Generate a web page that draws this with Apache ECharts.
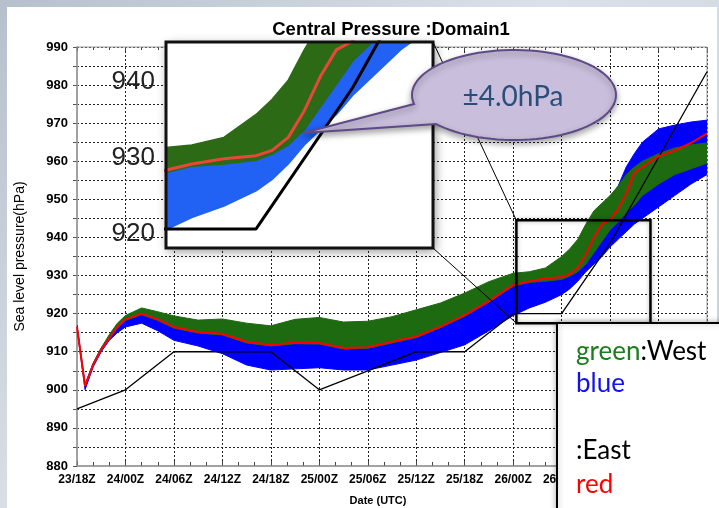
<!DOCTYPE html>
<html><head><meta charset="utf-8">
<script src="https://cdn.jsdelivr.net/npm/echarts@6/dist/echarts.min.js"></script>
<style>
html,body{margin:0;padding:0;width:719px;height:508px;overflow:hidden;background:linear-gradient(135deg,#b6c0cc 0%,#dbe1e8 45%,#c3ccd7 100%);}
#paper{position:absolute;left:7px;top:7px;width:710px;height:501px;background:#fff;}
#chart{position:absolute;left:0;top:0;width:719px;height:508px;}
</style></head><body><div id="paper"></div><div id="chart"></div>
<script>
// ---- data (hours after 23/18Z) ----
const hours = [0,1,2,3,4,5,6,8,10,12,15,18,21,24,27,30,33,36,39,42,45,48,51,54,56,58,60,61,62,63,64,65,66,67,68,69,70,72,74,76,78];
const redMember = [916.5,901,906.5,910.5,913.5,916.5,918.5,920,918.5,916.5,915.2,914.7,912.6,911.8,912.4,912.3,911,911.2,912.6,914,916.6,919.6,923.3,927.5,928.5,929.2,929.6,930.3,932,935.5,940,943.5,944.6,947.5,951.5,957,958.5,961.3,962.8,964.8,967.3];
const blueLow  = [916,900,906,910,913,915,916.5,917.5,915.5,913,911.5,909.5,906.5,905.2,905.5,905.8,905.2,905.2,906.5,907.8,909.8,911.8,915.5,919.5,921.5,923,925,926.5,928.5,931,933,935,937.5,939.5,941.5,943.5,945,948,951,954,956.5];
const blueHigh = [917,901.5,907,911,914,917,919,920.5,919,917,915.2,914.7,912.6,911.8,912.4,912.3,911,911.2,912.6,914,916.6,919.6,923.3,927.5,928.5,929.2,929.6,930.3,932,935.5,940,944.5,950,953.5,958.5,962,965,968.5,969.5,970.3,970.8];
const greenLow = [916.5,901,906.5,910.5,913.5,916.2,918.2,919.7,918.2,916.2,914.9,914.4,912.3,911.5,912.1,912,910.7,910.9,912.3,913.7,916.3,919.3,923,927.2,928.2,928.5,929,929.8,931,933,936,939,942,944,946.5,948.5,951,954,956.5,958,959.5];
const greenHigh= [916.5,901,907,911,914.5,917.5,919.5,921.5,920.5,919.4,918.3,918.6,917.5,916.8,918.5,919,917.8,918,919.2,921,922.8,925.4,928.4,930.6,931,932,935,937,939.5,943.5,947,949,951,953.5,956.5,958.5,960,962,963.5,964.3,964.8];
const trackHours = [0,6,12,18,24,30,36,42,48,54,60,66,72,78];
const bestTrack  = [895,900,910,910,910,900,905,910,910,920,920,938.5,961,983.5];
const xTickLabels = ['23/18Z','24/00Z','24/06Z','24/12Z','24/18Z','25/00Z','25/06Z','25/12Z','25/18Z','26/00Z','26/06Z','26/12Z','26/18Z','27/00Z'];
const yTickLabels = [880,890,900,910,920,930,940,950,960,970,980,990];
// zoom window shown in the inset
const insetX = [54.4, 71.0];
const insetY = [917.5, 944.5];
const insetTicks = [920, 930, 940];
const insetLabelShift = 0.7;   // the typed inset labels sit slightly below their grid values
const insetGridY = [920, 925, 930, 935, 940];
const insetGridX = [60, 66];
const insetMarker = [62.7];

const pairs = (xs, arr) => xs.map((h, i) => [h, arr[i]]);

// ensemble envelope drawn as a filled polygon through the axes' scales
function band(lo, hi, color, z, xi, lw) {
  return {
    type:'custom', coordinateSystem:'cartesian2d', xAxisIndex:xi, yAxisIndex:xi, z, silent:true, clip:true,
    data: hours.map((h, i) => [h, lo[i], hi[i]]),
    encode:{x:0, y:[1, 2]},
    renderItem(params, api) {
      if (params.dataIndex !== 0) return null;
      const top = hours.map((h, i) => api.coord([h, hi[i]]));
      const bot = hours.map((h, i) => api.coord([h, lo[i]])).reverse();
      const cs = params.coordSys;
      return {
        type:'polygon', shape:{points: top.concat(bot)},
        style:{fill:color, stroke:color, lineWidth:lw, lineJoin:'round'},
        clipPath:{type:'rect', shape:{x:cs.x, y:cs.y, width:cs.width, height:cs.height}}
      };
    }
  };
}

const C = {green:'#1d6a10', blue:'#0000ff', red:'#ff0000'};
const IC = {green:'#2c6a15', blue:'#2161f4', red:'#e8473a'};
const axisFont = 'Liberation Sans, Arial, sans-serif';

const chart = echarts.init(document.getElementById('chart'), null, {width:719, height:508});
const option = {
  animation:false,
  backgroundColor:'transparent',
  title:{text:'Central Pressure :Domain1', left:386, top:15, textAlign:'center',
    textStyle:{fontSize:18.5, fontWeight:'bold', fontFamily:axisFont, color:'#000'}},
  grid:[
    {left:77, top:47, width:630, height:419, outerBoundsMode:'none', containLabel:false,
     show:true, borderColor:'#9a9a9a', borderWidth:1, z:1},
    {left:166, top:42, width:267, height:206, outerBoundsMode:'none', containLabel:false,
     show:true, backgroundColor:'#fff', borderWidth:0,
     shadowBlur:10, shadowColor:'rgba(0,0,0,0.45)', shadowOffsetX:2, shadowOffsetY:3, z:20}
  ],
  xAxis:[
    {gridIndex:0, type:'value', min:0, max:78, interval:6, position:'bottom',
     axisLine:{show:true, lineStyle:{color:'#aaa', width:2}},
     axisTick:{show:true, inside:true, length:5, lineStyle:{color:'#444'}},
     minorTick:{show:true, splitNumber:3, length:4, lineStyle:{color:'#444'}},
     axisLabel:{margin:8, fontSize:12, fontWeight:'bold', fontFamily:axisFont, color:'#000',
       formatter:v => xTickLabels[Math.round(v/6)] || ''},
     splitLine:{show:true, lineStyle:{color:'#222', type:[2,2], width:1}},
     name:'Date (UTC)', nameLocation:'middle', nameGap:29,
     nameTextStyle:{fontSize:11, fontWeight:'bold', fontFamily:axisFont, color:'#000', padding:[0,28,0,0]}},
    {gridIndex:0, type:'value', min:0, max:78, interval:6, position:'top',
     axisLine:{show:false}, axisLabel:{show:false}, splitLine:{show:false},
     axisTick:{show:true, inside:true, length:4, lineStyle:{color:'#444'}},
     minorTick:{show:true, splitNumber:3, length:3, lineStyle:{color:'#444'}}},
    {gridIndex:1, type:'value', min:insetX[0], max:insetX[1], show:true,
     axisLine:{show:false}, axisTick:{show:false}, axisLabel:{show:false}, splitLine:{show:false}, z:21}
  ],
  yAxis:[
    {gridIndex:0, type:'value', min:880, max:990, interval:5, position:'left',
     axisLine:{show:true, lineStyle:{color:'#aaa', width:2}},
     axisTick:{show:false},
     axisLabel:{margin:9, fontSize:13, fontWeight:'bold', fontFamily:axisFont, color:'#000',
       formatter:v => yTickLabels.includes(v) ? String(v) : ''},
     splitLine:{show:true, lineStyle:{color:'#222', type:[2,2], width:1}},
     name:'Sea level pressure(hPa)', nameLocation:'middle', nameGap:50,
     nameTextStyle:{fontSize:14, fontFamily:axisFont, color:'#000'}},
    {gridIndex:0, type:'value', min:880, max:990, interval:5, position:'right',
     axisLine:{show:false}, axisLabel:{show:false}, splitLine:{show:false},
     axisTick:{show:true, inside:true, length:4, lineStyle:{color:'#555'}}},
    {gridIndex:1, type:'value', min:insetY[0], max:insetY[1], show:true,
     axisLine:{show:false}, axisTick:{show:false}, splitLine:{show:false}, axisLabel:{show:false}, z:21},
    {gridIndex:1, type:'value', min:insetY[0] + insetLabelShift, max:insetY[1] + insetLabelShift, show:true,
     position:'left', axisLine:{show:false}, axisTick:{show:false}, splitLine:{show:false}, z:21,
     axisLabel:{customValues:insetTicks, margin:11, fontSize:26, fontFamily:axisFont, color:'#222'}}
  ],
  series:[
    band(blueLow, blueHigh, C.blue, 3, 0, 1),
    band(greenLow, greenHigh, C.green, 4, 0, 1),
    {type:'line', xAxisIndex:0, yAxisIndex:0, data:pairs(trackHours, bestTrack), symbol:'none',
     lineStyle:{color:'#000', width:1.3}, z:5, silent:true},
    {type:'line', xAxisIndex:0, yAxisIndex:0, data:pairs(hours, redMember), symbol:'none',
     lineStyle:{color:C.red, width:2}, z:6, silent:true},
    // inset
    {type:'line', xAxisIndex:2, yAxisIndex:2, data:[[insetX[0], insetY[0]]], symbol:'none', z:21, silent:true,
     lineStyle:{width:0},
     markLine:{silent:true, symbol:'none', label:{show:false}, animation:false,
       lineStyle:{color:'#9a9a9a', type:[2,3], width:1},
       data:[...insetGridY.map(v => ({yAxis:v})), ...insetGridX.map(v => ({xAxis:v})),
             ...insetMarker.map(v => ({xAxis:v, lineStyle:{color:'#6a6a6a', type:[4,2], width:1.6}}))]}},
    band(blueLow, blueHigh, IC.blue, 22, 2, 1.5),
    band(greenLow, greenHigh, IC.green, 23, 2, 1.5),
    {type:'line', xAxisIndex:2, yAxisIndex:2, data:pairs(trackHours, bestTrack), symbol:'none',
     lineStyle:{color:'#000', width:3}, z:24, silent:true},
    {type:'line', xAxisIndex:2, yAxisIndex:2, data:pairs(hours, redMember), symbol:'none',
     lineStyle:{color:IC.red, width:3}, z:25, silent:true}
  ]
};
chart.setOption(option);

// ---- annotation graphics positioned from the axes ----
const px = (ai, x, y) => chart.convertToPixel({xAxisIndex:ai, yAxisIndex:ai}, [x, y]);
const b0 = px(0, insetX[0], insetY[1]);
const b1 = px(0, insetX[1], insetY[0]);
const i0 = px(2, insetX[0], insetY[1]);
const i1 = px(2, insetX[1], insetY[0]);

// speech bubble outline (ellipse + tail)
const ecx = 514, ecy = 95, erx = 102, ery = 45;
const bubble = [[303, 133]];
const aStart = Math.PI - Math.asin(9/45), aEnd = Math.PI - Math.asin(29/45) + 2*Math.PI;
for (let k = 0; k <= 90; k++) {
  const t = aStart + (aEnd - aStart) * k / 90;
  bubble.push([ecx + erx*Math.cos(t), ecy + ery*Math.sin(t)]);
}
const lf = 'Lato, sans-serif';
chart.setOption({graphic:[
  {type:'line', z:45, shape:{x1:i1[0], y1:i0[1], x2:b0[0], y2:b0[1]}, style:{stroke:'#000', lineWidth:1}},
  {type:'line', z:45, shape:{x1:i1[0], y1:i1[1], x2:b0[0], y2:b1[1]}, style:{stroke:'#000', lineWidth:1}},
  {type:'rect', z:46, shape:{x:b0[0], y:b0[1], width:b1[0]-b0[0], height:b1[1]-b0[1]},
   style:{fill:null, stroke:'#000', lineWidth:2.5, shadowBlur:4, shadowColor:'rgba(0,0,0,0.3)'}},
  {type:'rect', z:30, shape:{x:i0[0], y:i0[1], width:i1[0]-i0[0], height:i1[1]-i0[1]},
   style:{fill:null, stroke:'#111', lineWidth:3}},
  {type:'polygon', z:60, shape:{points:bubble},
   style:{fill:'#c9bedb', stroke:'#5e4a87', lineWidth:2, shadowBlur:6, shadowOffsetY:3, shadowColor:'rgba(0,0,0,0.35)'}},
  {type:'text', z:61, x:513, y:97, style:{text:'±4.0hPa', fill:'#2a4d7a', fontSize:28, fontFamily:lf,
    align:'center', verticalAlign:'middle'}},
  {type:'rect', z:70, shape:{x:557, y:323, width:175, height:200},
   style:{fill:'#fff', stroke:'#000', lineWidth:2, shadowBlur:6, shadowColor:'rgba(0,0,0,0.3)'}},
  {type:'text', z:71, x:576, y:352, style:{text:'{g|green}{k|:West}', verticalAlign:'middle',
    rich:{g:{fill:'#1e7b1e', fontSize:26, fontFamily:lf}, k:{fill:'#000', fontSize:26, fontFamily:lf}}}},
  {type:'text', z:71, x:576, y:384, style:{text:'blue', fill:'#1010f0', fontSize:26, fontFamily:lf, verticalAlign:'middle'}},
  {type:'text', z:71, x:576, y:451, style:{text:':East', fill:'#000', fontSize:26, fontFamily:lf, verticalAlign:'middle'}},
  {type:'text', z:71, x:576, y:485, style:{text:'red', fill:'#ff0000', fontSize:26, fontFamily:lf, verticalAlign:'middle'}}
]});
</script></body></html>
